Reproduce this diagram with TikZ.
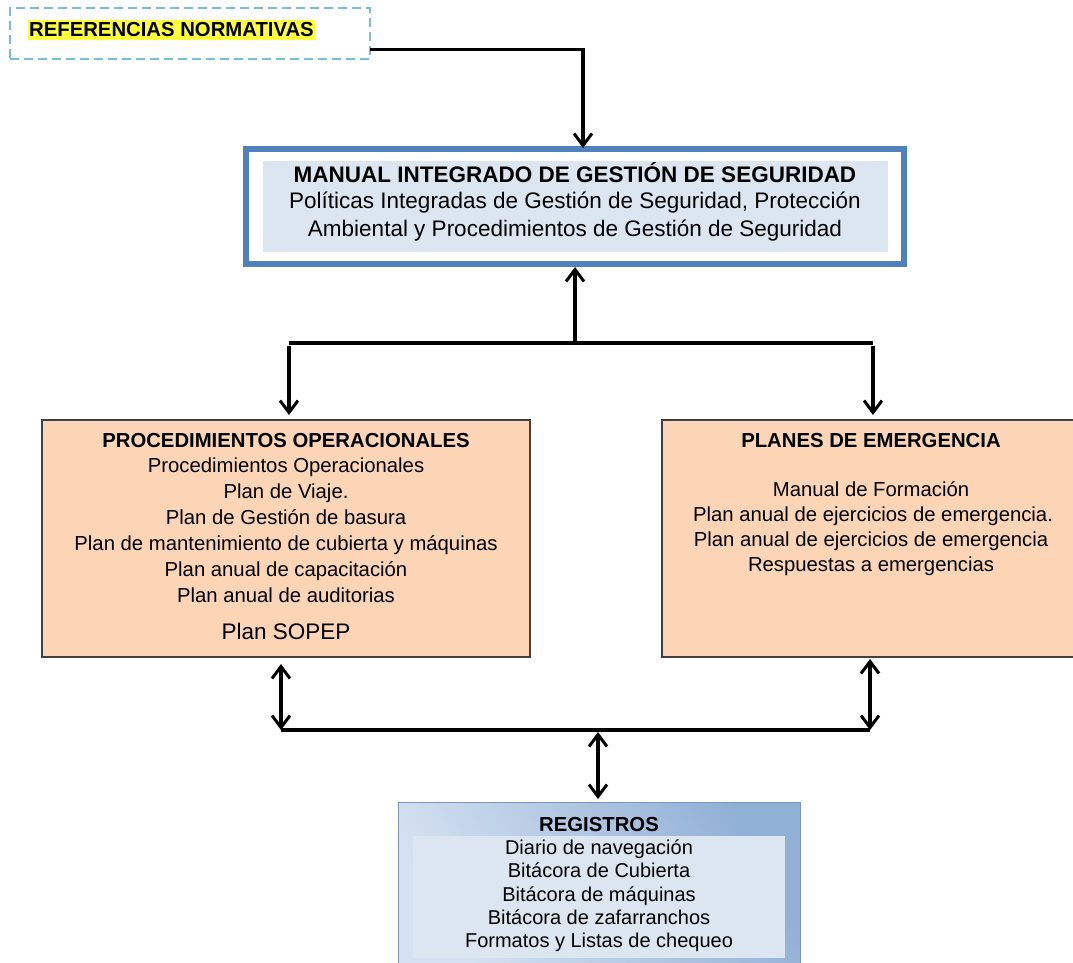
\documentclass[tikz,border=0pt]{standalone}
\usepackage{fontspec}
\setmainfont{Liberation Sans}
\usetikzlibrary{arrows.meta,calc}
\definecolor{dashblue}{RGB}{120,190,212}
\definecolor{hiyellow}{RGB}{255,255,60}
\definecolor{frameblue}{RGB}{79,129,189}
\definecolor{paleblue}{RGB}{220,230,240}
\definecolor{peach}{RGB}{251,213,181}
\definecolor{regdark}{RGB}{145,176,214}
\definecolor{reglight}{RGB}{214,226,241}
\tikzset{
  barb/.tip={Straight Barb[length=12pt,width=18pt,line width=3pt]},
  conn/.style={line width=3.2pt, black},
  arr/.style={conn, -barb},
  darr/.style={conn, barb-barb},
  procbox/.style={draw=black!75, line width=1.8pt, fill=peach, anchor=north west, inner sep=0pt, outer sep=0pt},
  body/.style={font=\fontsize{20.3}{26}\selectfont, align=center, inner sep=0pt},
  head/.style={font=\fontsize{20.3}{26}\selectfont\bfseries, inner sep=0pt},
}
\begin{document}
\begin{tikzpicture}[x=1pt,y=-1pt]
\useasboundingbox (0,0) rectangle (1073,962);

% normative references box
\node[draw=dashblue, dash pattern=on 9pt off 5pt, line width=2.6pt, anchor=north west,
      minimum width=360pt, minimum height=51pt, inner sep=0pt, outer sep=0pt] (ref) at (10,8) {};
\node[fill=hiyellow, anchor=west, inner xsep=1pt, inner ysep=3pt,
      font=\fontsize{20.3}{22}\selectfont\bfseries] (reftxt) at (28,30) {REFERENCIAS NORMATIVAS};

% integrated management manual
\node[draw=frameblue, line width=6pt, fill=white, anchor=north west,
      minimum width=658pt, minimum height=115pt, inner sep=0pt, outer sep=0pt] (main) at (246,149) {};
\fill[paleblue] (263,161) rectangle (888,252);
\node[head, font=\fontsize{22.5}{28}\selectfont\bfseries] (maintitle) at (575,173) {MANUAL INTEGRADO DE GESTIÓN DE SEGURIDAD};
\node[body, anchor=north, font=\fontsize{22.5}{28}\selectfont] (maintxt) at (575,191.5) {Políticas Integradas de Gestión de Seguridad, Protección\\Ambiental y Procedimientos de Gestión de Seguridad};

% operational procedures
\node[procbox, minimum width=488pt, minimum height=237pt] (proc) at (42,420) {};
\node[head] (proctitle) at (286,441) {PROCEDIMIENTOS OPERACIONALES};
\node[body, anchor=north, font=\fontsize{20.3}{26.1}\selectfont] (proctxt) at (286,457.5)
  {Procedimientos Operacionales\\Plan de Viaje.\\Plan de Gestión de basura\\Plan de mantenimiento de cubierta y máquinas\\Plan anual de capacitación\\Plan anual de auditorias};
\node[body, font=\fontsize{22.5}{26}\selectfont] (sopep) at (286,631) {Plan SOPEP};

% emergency plans
\node[procbox, minimum width=430pt, minimum height=237pt] (emer) at (662,420) {};
\node[head] (emertitle) at (871,441) {PLANES DE EMERGENCIA};
\node[body, anchor=north, font=\fontsize{20.3}{25}\selectfont] (emertxt) at (871,481)
  {Manual de Formación\\\hspace*{4pt}Plan anual de ejercicios de emergencia.\\Plan anual de ejercicios de emergencia\\Respuestas a emergencias};

% records
\node[anchor=north west, minimum width=402pt, minimum height=165pt, inner sep=0pt, outer sep=0pt,
      draw=regdark!85!black, line width=0.6pt,
      left color=reglight, right color=regdark, shading angle=120] (reg) at (398,802) {};
\fill[paleblue] (413,836) rectangle (785,958);
\node[head] (regtitle) at (599,824) {REGISTROS};
\node[body, anchor=north, font=\fontsize{20}{23.3}\selectfont] (regtxt) at (599,839.5)
  {Diario de navegación\\Bitácora de Cubierta\\Bitácora de máquinas\\Bitácora de zafarranchos\\Formatos y Listas de chequeo};

% connectors
\coordinate (refout) at ($(ref.east)+(0,16)$);
\draw[arr] (refout) -| ($(main.north)+(8,-1)$);

\coordinate (topL) at (289,343);
\coordinate (topR) at (873,343);
\coordinate (topM) at (main.south |- topL);
\draw[conn] (topL) -- (topR);
\draw[arr] (topM) -- ($(main.south)+(0,3)$);
\draw[arr] ($(topL)+(0,3)$) -- ($(proc.north -| topL)+(0,-5)$);
\draw[arr] ($(topR)+(0,3)$) -- ($(emer.north -| topR)+(0,-5)$);

\coordinate (botL) at (281,730);
\coordinate (botR) at (870,730);
\coordinate (botM) at (598,730);
\draw[conn] (botL) -- (botR);
\draw[darr] ($(proc.south -| botL)+(0,7)$) -- (botL);
\draw[darr] ($(emer.south -| botR)+(0,2)$) -- (botR);
\draw[darr] ($(botM)+(0,2)$) -- ($(reg.north -| botM)+(0,-3)$);
\end{tikzpicture}
\end{document}
